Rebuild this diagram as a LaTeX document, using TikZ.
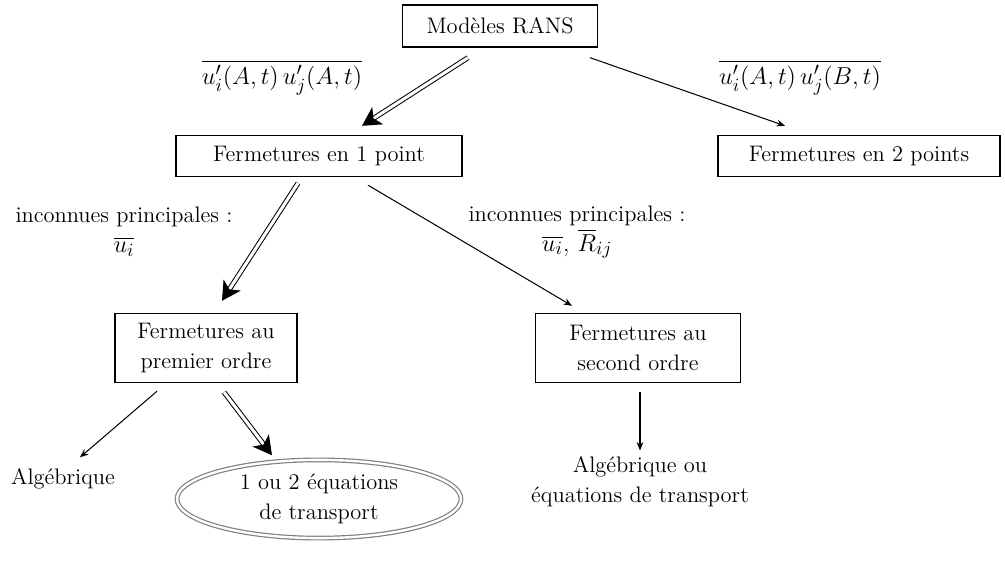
\documentclass[tikz,border=0pt]{standalone}
\usepackage{amsmath}
\usepackage{tikz}
\usetikzlibrary{arrows.meta,calc,positioning,shapes.geometric}
\newcommand{\grandmath}{\fontsize{15.8}{17.6}\selectfont}
\tikzset{
  boite/.style={draw, line width=0.8pt, inner sep=0pt, align=center},
  texte/.style={inner sep=0pt, align=center},
  bulle/.style={ellipse, draw=gray, line width=0.7pt, double, double distance=1.4pt,
    inner sep=0pt, align=center},
  fleche/.style={-{Stealth[length=5pt,width=4pt]}, line width=0.6pt},
  fleche double/.style={double, double distance=1.8pt, line width=0.6pt,
    -{Stealth[length=11pt,width=12pt,inset=3pt]}}
}

\begin{document}
\begin{tikzpicture}[x=0.588pt, y=-0.588pt,
    every node/.style={font=\fontsize{13.2}{17.6}\selectfont}]
    \useasboundingbox (0,0) rectangle (1005,561);

    \node[boite, minimum width=115pt, minimum height=24.7pt] (rans) at (500,26) {Mod\`eles RANS};
    \node[boite, minimum width=168pt, minimum height=24.1pt] (un) at (319,156) {Fermetures en 1 point};
    \node[boite, minimum width=166pt, minimum height=24.1pt] (deux) at (859,156) {Fermetures en 2 points};
    \node[boite, minimum width=107pt, minimum height=40.6pt] (ordre1) at (206,348) {Fermetures au\\premier ordre};
    \node[boite, minimum width=120.6pt, minimum height=40.6pt] (ordre2) at (638,348) {Fermetures au\\second ordre};

    \node[texte] (alg) at (63,479) {Alg\'ebrique};
    \node[bulle, minimum width=167pt, minimum height=46pt] (transp) at (319,499) {1 ou 2 \'equations\\de transport};
    \node[texte] (alg2) at (640,482) {Alg\'ebrique ou\\\'equations de transport};

    \node[texte, font=\grandmath] (corrA) at (282,78) {$\overline{u'_i(A,t)\,u'_j(A,t)}$};
    \node[texte, font=\grandmath] (corrB) at (800,78) {$\overline{u'_i(A,t)\,u'_j(B,t)}$};
    \node[texte] (inc1) at (124,232) {inconnues principales :\\{\grandmath$\overline{u_i}$}};
    \node[texte] (inc2) at (577,232) {inconnues principales :\\{\grandmath$\overline{u_i}$, $\overline{R}_{ij}$}};

    \draw[fleche double] ($(rans.south)+(-32,10)$) -- ($(un.north)+(43,-9)$);
    \draw[fleche] ($(rans.south)+(90,10)$) -- ($(deux.north)+(-74,-9)$);
    \draw[fleche double] ($(un.south)+(-21,6)$) -- ($(ordre1.north)+(16,-12)$);
    \draw[fleche] ($(un.south)+(49,8)$) -- ($(ordre2.north)+(-66,-7)$);
    \draw[fleche] ($(ordre1.south)+(-49,8)$) -- ($(alg.north)+(17,-11)$);
    \draw[fleche double] ($(ordre1.south)+(18,9)$) -- ($(transp.north)+(-47,-4)$);
    \draw[fleche] ($(ordre2.south)+(2,9)$) -- ($(alg2.north)+(0,-6)$);
\end{tikzpicture}
\end{document}
